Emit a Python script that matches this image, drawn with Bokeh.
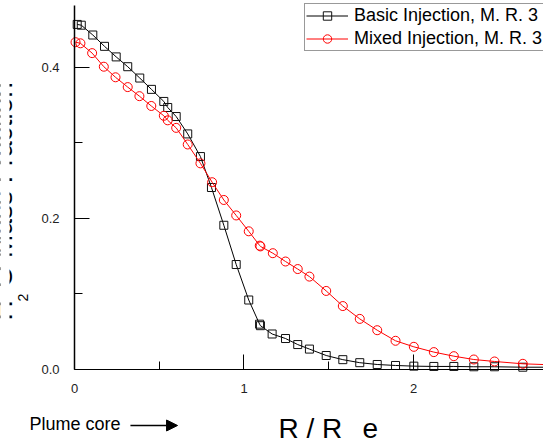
from bokeh.plotting import figure
from bokeh.models import (Range1d, FixedTicker, Label, Legend, LegendItem,
                          Arrow, NormalHead, BoxAnnotation)
from bokeh.embed import file_html
from bokeh.resources import INLINE

# Radial position (R / Re) and H2O mass fraction, basic injection
r_basic = [0.016, 0.04, 0.108, 0.177, 0.246, 0.314, 0.385, 0.454, 0.527, 0.55,
           0.60, 0.668, 0.743, 0.808, 0.881, 0.954, 1.028, 1.092, 1.097, 1.166,
           1.245, 1.317, 1.386, 1.485, 1.583, 1.683, 1.786, 1.894, 2.002, 2.12,
           2.238, 2.356, 2.478, 2.645]
h2o_basic = [0.457, 0.456, 0.443, 0.428, 0.414, 0.401, 0.386, 0.371, 0.355, 0.347,
             0.335, 0.312, 0.282, 0.241, 0.191, 0.139, 0.092, 0.060, 0.058, 0.047,
             0.041, 0.033, 0.027, 0.0185, 0.013, 0.009, 0.0066, 0.0053, 0.0044, 0.004,
             0.004, 0.0036, 0.0036, 0.003]

# Mixed injection
r_mixed = [0.006, 0.035, 0.104, 0.173, 0.242, 0.314, 0.383, 0.453, 0.527, 0.55,
           0.60, 0.668, 0.743, 0.812, 0.881, 0.954, 1.028, 1.093, 1.097, 1.17,
           1.245, 1.317, 1.386, 1.485, 1.583, 1.683, 1.786, 1.894, 2.002, 2.12,
           2.238, 2.356, 2.478, 2.645]
h2o_mixed = [0.4335, 0.432, 0.419, 0.401, 0.387, 0.374, 0.362, 0.349, 0.336, 0.330,
             0.320, 0.298, 0.273, 0.248, 0.2245, 0.204, 0.183, 0.164, 0.163, 0.154,
             0.143, 0.133, 0.123, 0.104, 0.084, 0.067, 0.052, 0.038, 0.030, 0.023,
             0.0176, 0.0132, 0.0106, 0.0075]

# Curve continuation past the last computed station
r_tail = [2.9]
h2o_basic_tail = [0.003]
h2o_mixed_tail = [0.0055]

x_ticks = [0, 1, 2]
x_minor = [0.5, 1.5, 2.5]
y_ticks = [0.0, 0.2, 0.4]
y_minor = [0.1, 0.3]
y_tick_labels = {0: "0.0", 0.2: "0.2", 0.4: "0.4"}

FONT = "Liberation Sans"

# The frame covers the whole canvas; the axes sit at the data origin so that
# the titles and notes around them can share the same drawing area.
p = figure(width=543, height=441, output_backend="svg", toolbar_location=None,
           x_range=Range1d(-0.4366, 2.767), y_range=Range1d(-0.0954, 0.4887),
           min_border_left=0, min_border_right=0, min_border_top=0,
           min_border_bottom=0)
p.outline_line_color = None
p.xgrid.visible = False
p.ygrid.visible = False
p.background_fill_color = "white"

for ax in (p.xaxis, p.yaxis):
    ax.fixed_location = 0
    ax.axis_line_color = "black"
    ax.major_tick_line_color = "black"
    ax.minor_tick_line_color = "black"
    ax.major_tick_in = 15
    ax.major_tick_out = 0
    ax.minor_tick_in = 8
    ax.minor_tick_out = 0
    ax.major_label_text_font = FONT
    ax.major_label_text_font_size = "13px"
    ax.major_label_text_color = "#222222"
    ax.major_label_standoff = 15

p.xaxis.bounds = (0, 2.8)
p.yaxis.bounds = (0, 0.482)
p.xaxis.ticker = FixedTicker(ticks=x_ticks, minor_ticks=x_minor)
p.yaxis.ticker = FixedTicker(ticks=y_ticks, minor_ticks=y_minor)
p.yaxis.major_label_overrides = y_tick_labels
p.yaxis.axis_line_width = 1.5

# Basic injection: black line with open squares
bl = p.line(r_basic + r_tail, h2o_basic + h2o_basic_tail, line_color="black", line_width=1)
bm = p.scatter(r_basic, h2o_basic, marker="square", size=8, line_color="#111111",
               fill_color=None, line_width=1)

# Mixed injection: red line with open circles
ml = p.line(r_mixed + r_tail, h2o_mixed + h2o_mixed_tail, line_color="#ff0000", line_width=1)
mm = p.scatter(r_mixed, h2o_mixed, marker="circle", size=9, line_color="#ff0000",
               fill_color=None, line_width=1)

legend = Legend(items=[
    LegendItem(label="Basic Injection, M. R. 3", renderers=[bl, bm]),
    LegendItem(label="Mixed Injection, M. R. 3", renderers=[ml, mm]),
], location=(304, 390))
legend.label_text_font = FONT
legend.label_text_font_size = "18px"
legend.label_text_color = "black"
legend.glyph_width = 42
legend.glyph_height = 21
legend.label_height = 21
legend.label_standoff = 6
legend.spacing = 2
legend.padding = 1
legend.margin = 0
legend.border_line_color = "#333333"
legend.border_line_width = 1
legend.background_fill_color = "white"
legend.background_fill_alpha = 1
p.add_layout(legend)

# Vertical axis title, running off the left edge (labels anchored at their middle)
p.add_layout(Label(x=-0.426, y=0.0649, text="H", angle=1.5708, text_align="left",
                   text_baseline="middle", text_font=FONT, text_font_size="28px",
                   text_color="black"))
p.add_layout(Label(x=-0.3056, y=0.090, text="2", angle=1.5708, text_align="left",
                   text_baseline="middle", text_font=FONT, text_font_size="14px",
                   text_color="black"))
p.add_layout(Label(x=-0.426, y=0.1086, text="O Mass Fraction", angle=1.5708,
                   text_align="left", text_baseline="middle", text_font=FONT,
                   text_font_size="28px", text_color="black"))
p.add_layout(BoxAnnotation(right=-0.3835, bottom=0.0, top=0.482,
                           fill_color="white", fill_alpha=1, line_color=None))

# Horizontal axis title
p.add_layout(Label(x=1.2035, y=-0.0785, text="R / R", text_font=FONT,
                   text_font_size="28px", text_color="black",
                   text_baseline="middle"))
p.add_layout(Label(x=1.699, y=-0.0785, text="e", text_font=FONT,
                   text_font_size="28px", text_color="black",
                   text_baseline="middle"))

# Plume core marker with arrow
p.add_layout(Label(x=-0.2655, y=-0.0726, text="Plume core", text_font=FONT,
                   text_font_size="18px", text_color="black",
                   text_baseline="middle"))
p.add_layout(Arrow(x_start=0.330, y_start=-0.0742, x_end=0.608, y_end=-0.0742,
                   line_color="black", line_width=1.5,
                   end=NormalHead(size=11, fill_color="black", line_color="black")))

open("out.html", "w").write(file_html(p, INLINE))
